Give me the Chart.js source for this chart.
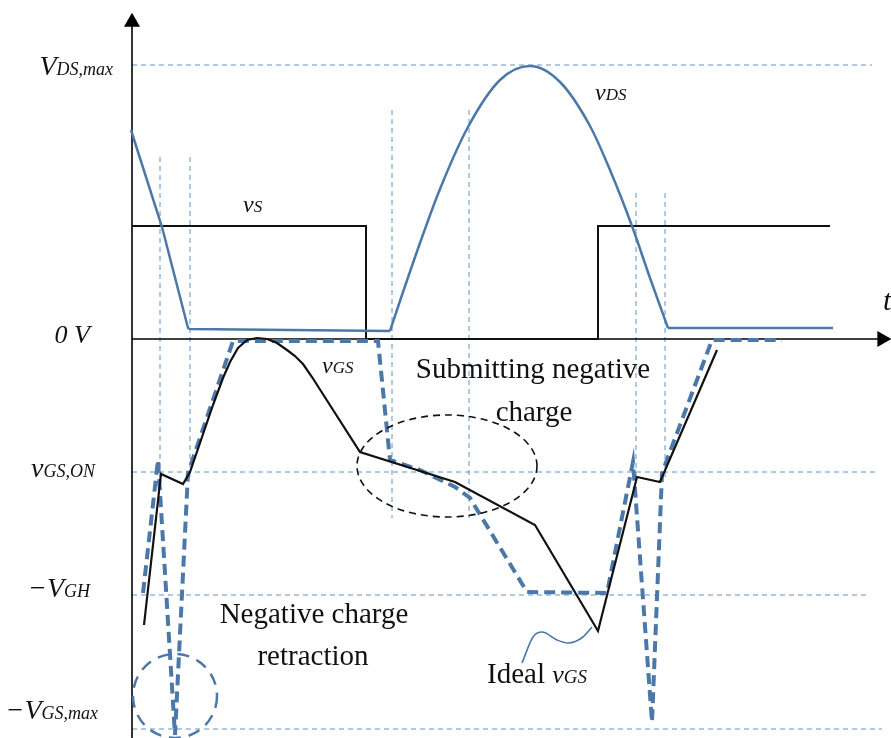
<!DOCTYPE html>
<html>
<head>
<meta charset="utf-8">
<script src="https://cdn.jsdelivr.net/npm/chart.js@4.4.0/dist/chart.umd.min.js"></script>
<style>
  html, body { margin: 0; padding: 0; background: #fff; }
  #wrap { width: 891px; height: 738px; position: relative; }
</style>
</head>
<body>
<div id="wrap"><canvas id="ondas"></canvas></div>
<script>
// ===== DATOS (t y v en unidades del dibujo, origen en 0 V) =====
const vsT = [0, 234, 234, 466, 466, 698];
const vsV = [113, 113, 0, 0, 113, 113];

const vdsCaidaT = [-1, 30, 56, 58, 258];
const vdsCaidaV = [209, 112, 11, 10, 8];
const vdsPulsoT = [258, 268, 288, 308, 336, 368, 398, 428, 458, 478, 500, 518, 536];
const vdsPulsoV = [8, 38, 96, 150, 212, 259, 273, 257, 213, 169, 113, 61, 11];
const vdsFinalT = [536, 701];
const vdsFinalV = [11, 11];

const vgsT = [12, 29, 51, 58, 81, 91, 98, 106, 115, 125, 135, 145, 155, 163, 171, 180, 228, 323, 403, 466, 505, 528, 585];
const vgsV = [-286, -135, -145, -133, -66, -39, -23, -9, -1, 1, 0, -4, -11, -17, -25, -38, -113, -143, -186, -292, -138, -143, -11];

const idealT = [11, 26, 43, 56, 101, 246, 258, 288, 323, 338, 395, 475, 501, 520, 530, 580, 650];
const idealV = [-254, -121, -396, -134, -2, -2, -121, -131, -148, -159, -253, -254, -123, -383, -134, -1, -1];

// niveles marcados en el eje vertical
const nivelTexto = ['V', '0 V', 'v', '\u2212V', '\u2212V'];
const nivelSub = ['DS,max', '', 'GS,ON', 'GH', 'GS,max'];
const nivelValor = [274, 0, -133, -256, -390];

// guías horizontales punteadas (nivel y hasta dónde llegan)
const guiaV = [274, -133, -256, -390];
const guiaFin = [740, 743, 738, 750];

// guías verticales punteadas
const marcaT = [28, 58, 260, 337, 504, 533];
const marcaDesde = [182, 182, 229, 229, 146, 146];
const marcaHasta = [-140, -140, -179, -179, -140, -140];

// trazo ondulado que señala la curva ideal
const senalT = [390, 401, 410, 425, 436, 451, 460];
const senalV = [-324, -298, -293, -301, -304, -298, -288];

// ===== ESTILOS =====
const AZUL = '#4b78a8';
const AZUL_GUIA = '#6393c6';
const NEGRO = '#111';
const SERIF = "'Liberation Serif', 'Times New Roman', serif";

const linea = (xs, ys, estilo) => Object.assign({
  data: xs.map((x, i) => ({ x, y: ys[i] })),
  showLine: true,
  pointRadius: 0,
  fill: false,
  clip: false,
  borderWidth: 2
}, estilo);

const datasets = [
  linea(vgsT, vgsV, { borderColor: NEGRO, borderWidth: 2.2 }),
  linea(idealT, idealV, { borderColor: AZUL, borderWidth: 4, borderDash: [11, 6] }),
  linea(vdsCaidaT, vdsCaidaV, { borderColor: AZUL, borderWidth: 2.5 }),
  linea(vdsPulsoT, vdsPulsoV, { borderColor: AZUL, borderWidth: 2.5, cubicInterpolationMode: 'monotone' }),
  linea(vdsFinalT, vdsFinalV, { borderColor: AZUL, borderWidth: 2.5 }),
  linea(vsT, vsV, { borderColor: NEGRO, borderWidth: 2 }),
  linea(senalT, senalV, { borderColor: AZUL, borderWidth: 1.6, cubicInterpolationMode: 'monotone' }),
  // ejes con flecha
  linea([0, 0], [-399, 317], {
    borderColor: '#000', borderWidth: 1.6,
    pointRadius: [0, 9.3], pointStyle: 'triangle', rotation: 0,
    pointBackgroundColor: '#000', pointBorderColor: '#000', pointBorderWidth: 0
  }),
  linea([0, 750], [0, 0], {
    borderColor: '#000', borderWidth: 1.6,
    pointRadius: [0, 9.3], pointStyle: 'triangle', rotation: 90,
    pointBackgroundColor: '#000', pointBorderColor: '#000', pointBorderWidth: 0
  })
];

guiaV.forEach((v, i) => {
  datasets.push(linea([0, guiaFin[i]], [v, v], { borderColor: AZUL_GUIA, borderWidth: 1, borderDash: [5, 4] }));
});
marcaT.forEach((t, i) => {
  datasets.push(linea([t, t], [marcaDesde[i], marcaHasta[i]], { borderColor: AZUL_GUIA, borderWidth: 1, borderDash: [5, 4] }));
});

// ===== TEXTOS Y ELIPSES =====
function escribe(ctx, partes, px, py, alinear) {
  let total = 0;
  partes.forEach(([txt, fuente]) => { ctx.font = fuente; total += ctx.measureText(txt).width; });
  let xx = alinear === 'right' ? px - total : alinear === 'center' ? px - total / 2 : px;
  ctx.textAlign = 'left';
  ctx.textBaseline = 'alphabetic';
  partes.forEach(([txt, fuente]) => {
    ctx.font = fuente;
    ctx.fillText(txt, xx, py);
    xx += ctx.measureText(txt).width;
  });
}

const rotulos = {
  id: 'rotulos',
  afterDatasetsDraw(chart) {
    const { ctx, scales: { x, y } } = chart;
    const px = t => x.getPixelForValue(t);
    const py = v => y.getPixelForValue(v);
    const it = n => `italic ${n}px ${SERIF}`;
    const rg = n => `${n}px ${SERIF}`;

    ctx.save();
    ctx.fillStyle = '#111';

    // etiquetas del eje vertical
    const borde = [-19, -42, -37, -42, -34];
    const base = [-10, -4, -5, -2, 10];
    nivelTexto.forEach((txt, i) => {
      const grande = i === 1 ? it(26) : it(28);
      const partes = [[txt, grande]];
      if (nivelSub[i]) partes.push([nivelSub[i], it(18)]);
      escribe(ctx, partes, px(borde[i]), py(nivelValor[i] + base[i]), 'right');
    });

    // nombres de las señales
    escribe(ctx, [['v', it(24)], ['DS', it(17)]], px(463), py(239), 'left');
    escribe(ctx, [['v', it(24)], ['S', it(17)]], px(111), py(127), 'left');
    escribe(ctx, [['v', it(24)], ['GS', it(17)]], px(190), py(-34), 'left');
    escribe(ctx, [['t', it(30)]], px(751), py(29), 'left');

    // comentarios
    escribe(ctx, [['Submitting negative', rg(29)]], px(401), py(-39), 'center');
    escribe(ctx, [['charge', rg(29)]], px(402), py(-82), 'center');
    escribe(ctx, [['Negative charge', rg(29)]], px(182), py(-284), 'center');
    escribe(ctx, [['retraction', rg(29)]], px(181), py(-326), 'center');
    escribe(ctx, [['Ideal ', rg(29)], ['v', it(26)], ['GS', it(19)]], px(355), py(-344), 'left');

    // elipse negra (carga negativa entregada)
    ctx.setLineDash([7, 5]);
    ctx.lineWidth = 1.6;
    ctx.strokeStyle = '#111';
    ctx.beginPath();
    ctx.ellipse(px(315), py(-127), 90, 51, 0, 0, Math.PI * 2);
    ctx.stroke();

    // círculo azul (retracción de carga)
    ctx.setLineDash([12, 8]);
    ctx.lineWidth = 2.5;
    ctx.strokeStyle = AZUL;
    ctx.beginPath();
    ctx.arc(px(43), py(-357), 42, 0, Math.PI * 2);
    ctx.stroke();
    ctx.restore();
  }
};

new Chart(document.getElementById('ondas'), {
  type: 'scatter',
  data: { datasets },
  options: {
    responsive: true,
    maintainAspectRatio: false,
    animation: false,
    layout: { autoPadding: false, padding: 0 },
    plugins: { legend: { display: false }, tooltip: { enabled: false } },
    scales: {
      x: { type: 'linear', min: -132, max: 759, display: false },
      y: { type: 'linear', min: -399, max: 339, display: false }
    }
  },
  plugins: [rotulos]
});
</script>
</body>
</html>
